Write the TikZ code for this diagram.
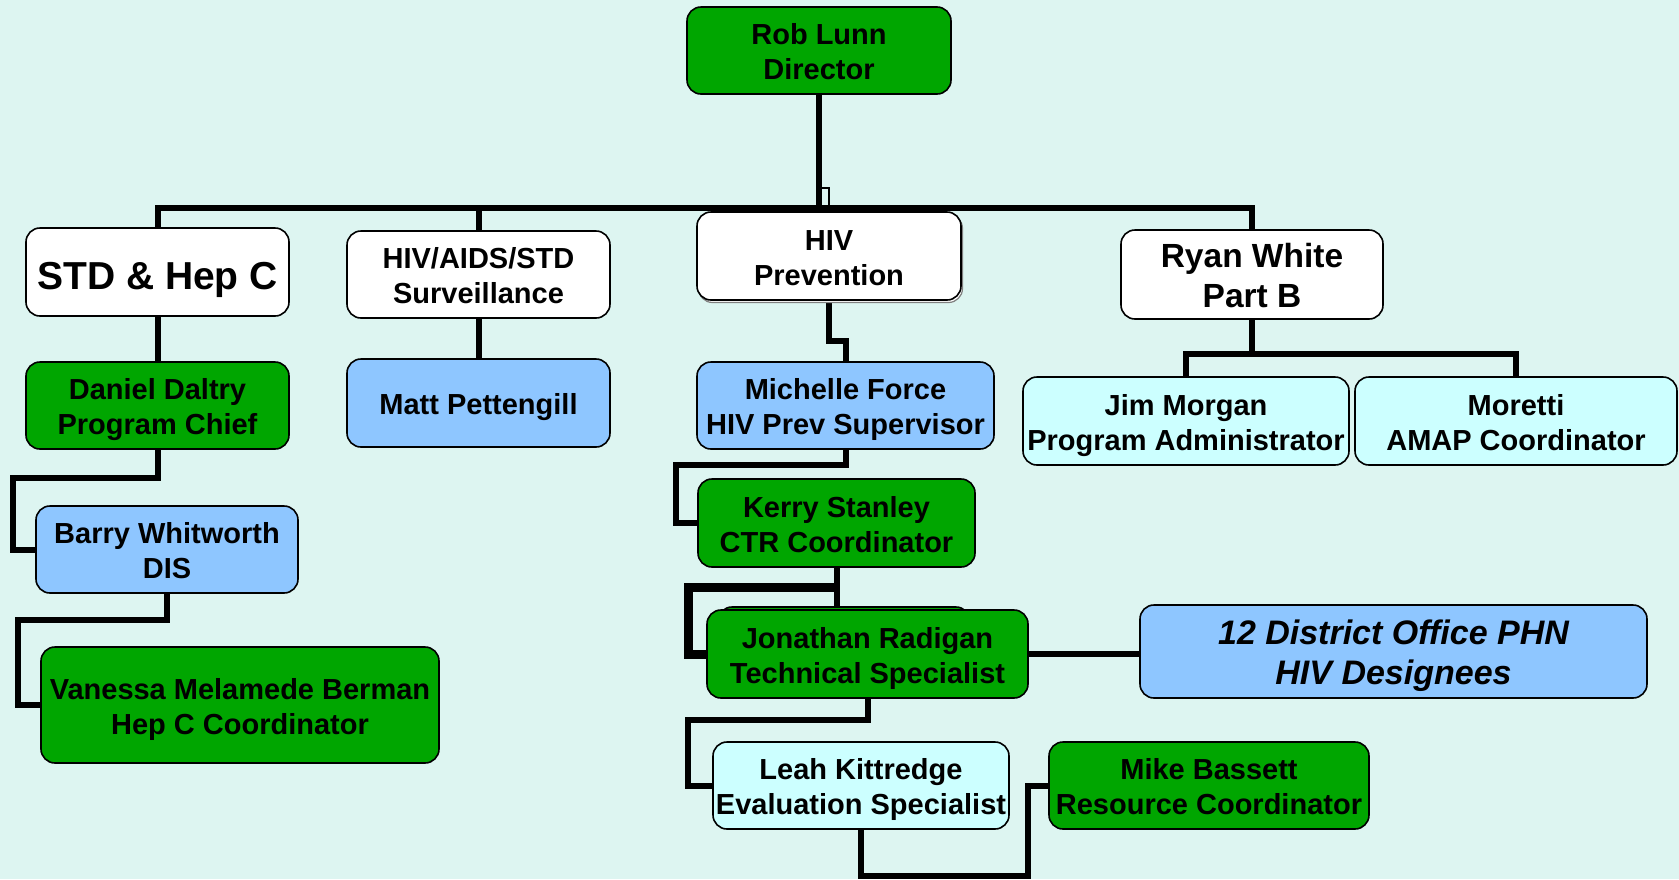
\documentclass[tikz,border=0pt]{standalone}
\usepackage{fontspec}
\setmainfont{Liberation Sans}
\usetikzlibrary{calc}
\definecolor{bgc}{RGB}{221,245,241}
\definecolor{gboxc}{RGB}{0,166,0}
\definecolor{bboxc}{RGB}{142,198,255}
\definecolor{cboxc}{RGB}{204,255,255}
\pgfdeclarelayer{bg}
\pgfsetlayers{bg,main}
\newcommand\bxt[2][13pt]{\begin{tabular}{@{}c@{}}\rule{0pt}{\dimexpr 0.3\baselineskip+0.716em+#1\relax}#2\end{tabular}}
\tikzset{
  orgbox/.style={draw=black, line width=1.6pt, rounded corners=14pt, inner sep=0pt,
     font=\fontsize{29}{35}\selectfont\bfseries},
  bigtext/.style={font=\fontsize{39}{45}\selectfont\bfseries},
  midtext/.style={font=\fontsize{33.5}{40}\selectfont\bfseries},
  italtext/.style={font=\fontsize{34}{40}\selectfont\bfseries\itshape},
  greenbox/.style={orgbox, fill=gboxc},
  bluebox/.style={orgbox, fill=bboxc},
  cyanbox/.style={orgbox, fill=cboxc},
  whitebox/.style={orgbox, fill=white},
  conn/.style={line width=6pt, black, line join=miter, line cap=rect},
  thinconn/.style={line width=2.5pt, black},
  thickconn/.style={line width=9pt, black, line join=miter},
}
\begin{document}
\begin{tikzpicture}[x=1pt,y=-1pt]
\begin{pgfonlayer}{bg}
\fill[bgc] (0,0) rectangle (1679,879);
\end{pgfonlayer}
\useasboundingbox (0,0) rectangle (1679,879);

% nodes
\node[greenbox, minimum width=264pt, minimum height=87pt] (dir) at (819,50.5) {\bxt{Rob Lunn\\Director}};
\node[whitebox, bigtext, minimum width=263pt, minimum height=88pt] (std) at (157.5,272) {\bxt[20pt]{STD \& Hep C}};
\node[whitebox, minimum width=263pt, minimum height=87pt] (surv) at (478.5,274.5) {\bxt{HIV/AIDS/STD\\Surveillance}};
\node[draw=gray, line width=1.2pt, rounded corners=14pt, minimum width=264pt, minimum height=88pt, fill=white] (hivpsh) at (830.5,258.5) {};
\node[whitebox, minimum width=264pt, minimum height=88pt] (hivp) at (829,256) {\bxt{HIV\\Prevention}};
\node[whitebox, midtext, minimum width=262pt, minimum height=87pt] (ryan) at (1252,274.5) {\bxt{Ryan White\\Part B}};
\node[greenbox, minimum width=263pt, minimum height=87pt] (daniel) at (157.5,405.5) {\bxt{Daniel Daltry\\Program Chief}};
\node[bluebox, minimum width=263pt, minimum height=88pt] (matt) at (478.5,403) {\bxt{Matt Pettengill}};
\node[bluebox, minimum width=297pt, minimum height=87pt] (michelle) at (845.5,405.5) {\bxt{Michelle Force\\HIV Prev Supervisor}};
\node[cyanbox, minimum width=326pt, minimum height=88pt] (jim) at (1186,421) {\bxt{Jim Morgan\\Program Administrator}};
\node[cyanbox, minimum width=322pt, minimum height=88pt] (moretti) at (1516,421) {\bxt{Moretti\\AMAP Coordinator}};
\node[bluebox, minimum width=262pt, minimum height=87pt] (barry) at (167,549.5) {\bxt{Barry Whitworth\\DIS}};
\node[greenbox, minimum width=277pt, minimum height=88pt] (kerry) at (836.5,523) {\bxt{Kerry Stanley\\CTR Coordinator}};
\node[greenbox, minimum width=252pt, minimum height=86pt] (hidden) at (844,650) {};
\node[greenbox, minimum width=321pt, minimum height=88pt] (jonathan) at (867.5,654) {\bxt{Jonathan Radigan\\Technical Specialist}};
\node[bluebox, italtext, minimum width=507pt, minimum height=93pt] (district) at (1393.5,651.5) {\bxt{12 District Office PHN\\HIV Designees}};
\node[greenbox, minimum width=398pt, minimum height=116pt] (vanessa) at (240,705) {\bxt{Vanessa Melamede Berman\\Hep C Coordinator}};
\node[cyanbox, minimum width=296pt, minimum height=87pt] (leah) at (861,785.5) {\bxt{Leah Kittredge\\Evaluation Specialist}};
\node[greenbox, minimum width=320pt, minimum height=87pt] (mike) at (1209,785.5) {\bxt{Mike Bassett\\Resource Coordinator}};

\coordinate (bus) at (0,208);
\coordinate (jog) at (0,188);
\coordinate (rjoin) at (0,354);
\coordinate (kjoin) at (0,587);

\begin{pgfonlayer}{bg}
% main bus
\draw[conn] (std.north) -- (std.north |- bus) -- (ryan.north |- bus) -- (ryan.north);
\draw[conn] (dir.south) -- (dir.south |- bus);
\draw[thinconn] (hivp.north) -- (hivp.north |- jog) -- (dir.south |- jog);
\draw[conn] (surv.north) -- (surv.north |- bus);
% STD branch
\draw[conn] (std.south) -- (daniel.north);
\draw[conn] (daniel.south) -- ++(0,28) -- ++(-144.5,0) |- (barry.west);
\draw[conn] (barry.south) -- ++(0,26) -- ++(-149,0) |- (vanessa.west);
% Surveillance
\draw[conn] (surv.south) -- (matt.north);
% HIV Prevention branch
\draw[conn] (hivp.south) -- ++(0,40) -| (michelle.north);
\draw[conn] (michelle.south) -- ++(0,15) -- ++(-169.5,0) |- (kerry.west);
\draw[conn] (kerry.south) -- (kerry.south |- hidden.north);
\draw[thickconn] (kerry.south |- kjoin) -- ++(-148,0) |- (jonathan.west);
\draw[conn] (jonathan.east) -- (jonathan.east -| district.west);
\draw[conn] (jonathan.south) -- ++(0,21) -- ++(-179.5,0) |- (leah.west);
\draw[conn] (leah.south) -- ++(0,46) -- ++(167,0) |- (mike.west);
% Ryan White branch
\draw[conn] (ryan.south) -- (ryan.south |- rjoin);
\draw[conn] (jim.north) -- (jim.north |- rjoin) -- (moretti.north |- rjoin) -- (moretti.north);
\end{pgfonlayer}
\end{tikzpicture}
\end{document}
